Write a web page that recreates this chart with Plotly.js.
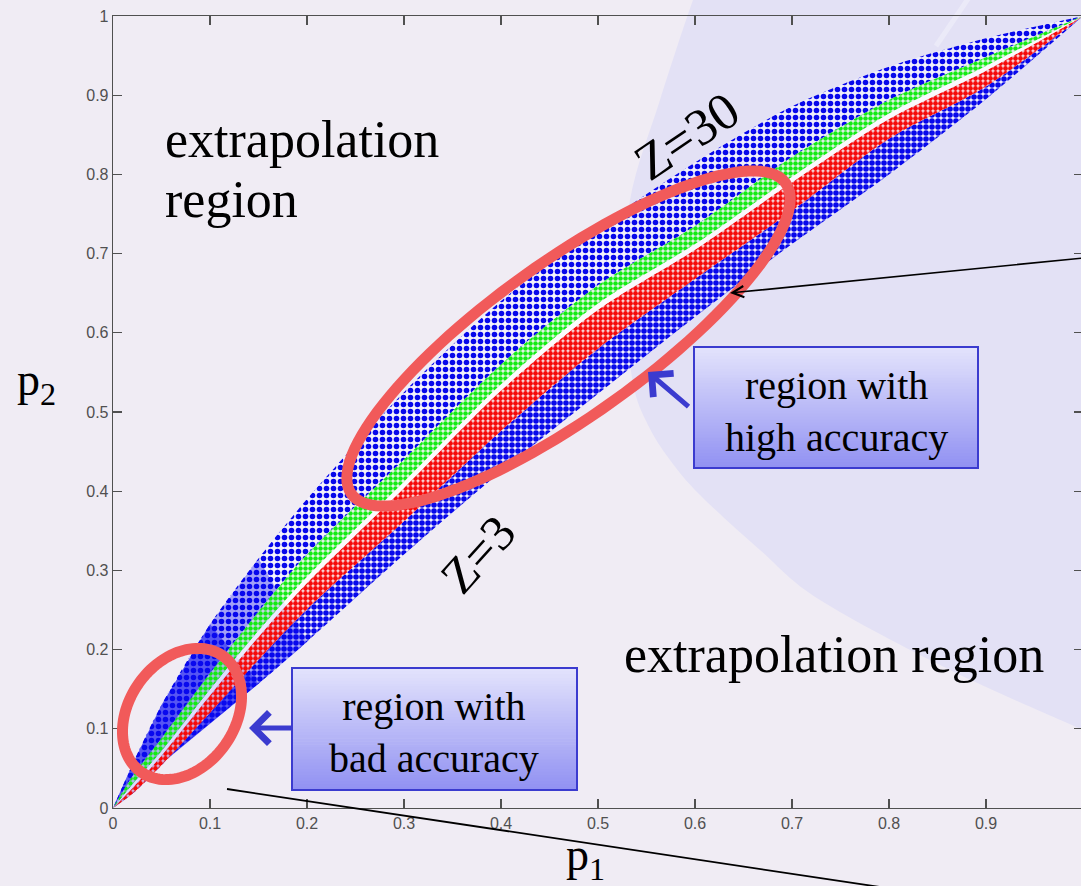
<!DOCTYPE html>
<html>
<head>
<meta charset="utf-8">
<script src="https://cdn.plot.ly/plotly-3.0.1.min.js"></script>
<style>
  html, body { margin: 0; padding: 0; overflow: hidden; background: #f0ecf4; }
  #chart { width: 1083px; height: 886px; }
</style>
</head>
<body>
<div id="chart"></div>
<script>
// Sample positions along p1 and the band edges (p2) of the point cloud
const p1          = [0, 0.02, 0.05, 0.10, 0.15, 0.20, 0.30, 0.40, 0.50, 0.60, 0.70, 0.80, 0.90, 1.00];
const blueUpper   = [0, 0.055, 0.130, 0.232, 0.315, 0.390, 0.525, 0.640, 0.733, 0.815, 0.886, 0.936, 0.972, 1.00];
const greenTop    = [0, 0.040, 0.088, 0.170, 0.248, 0.320, 0.440, 0.560, 0.660, 0.735, 0.822, 0.894, 0.948, 1.00];
const greenBottom = [0, 0.030, 0.072, 0.150, 0.224, 0.292, 0.412, 0.535, 0.637, 0.712, 0.797, 0.877, 0.937, 1.00];
const redTop      = [0, 0.025, 0.066, 0.142, 0.216, 0.284, 0.404, 0.527, 0.629, 0.705, 0.790, 0.870, 0.931, 1.00];
const redBottom   = [0, 0.018, 0.054, 0.120, 0.187, 0.251, 0.362, 0.476, 0.580, 0.668, 0.754, 0.845, 0.911, 1.00];
const blueLower   = [0, 0.021, 0.056, 0.107, 0.157, 0.210, 0.320, 0.425, 0.523, 0.620, 0.712, 0.800, 0.895, 1.00];

// Solid part of the blue cloud near the origin: [upper-edge count, lower-edge count, opacity]
const coreLayers = [[5, 6, 0.35], [4, 5, 0.5]];

// Text labels
const txtExtrap1 = 'extrapolation';
const txtExtrap2 = 'region';
const txtExtrapBottom = 'extrapolation region';
const txtZ30 = 'Z=30';
const txtZ3 = 'Z=3';
const txtHigh = 'region with<br>high accuracy';
const txtBad = 'region with<br>bad accuracy';
const txtXLabel = 'p<sub>1</sub>';
const txtYLabel = 'p<sub>2</sub>';

// ---- page geometry ----
const W = 1083, H = 886, ML = 113, MR = 0, MT = 16, MB = 78;
const plotW = W - ML - MR, plotH = H - MT - MB;
const PX = x => (x - ML) / plotW;          // pixel -> paper x
const PY = y => (H - MB - y) / plotH;      // pixel -> paper y

const SERIF = 'Liberation Serif, Times New Roman, serif';
const BLUE_DOT = 'rgb(8,8,235)';

function pathFromPixels(pts, closed) {
  return pts.map((p, i) => (i ? 'L' : 'M') + PX(p[0]).toFixed(5) + ',' + PY(p[1]).toFixed(5)).join(' ') + (closed ? ' Z' : '');
}
function smoothPath(pts, tail) {
  // Catmull-Rom through pixel points, emitted as cubic Beziers in paper units
  let d = 'M' + PX(pts[0][0]) + ',' + PY(pts[0][1]);
  for (let i = 0; i < pts.length - 1; i++) {
    const p0 = pts[Math.max(i - 1, 0)], pa = pts[i], pb = pts[i + 1], p3 = pts[Math.min(i + 2, pts.length - 1)];
    const c1 = [pa[0] + (pb[0] - p0[0]) / 6, pa[1] + (pb[1] - p0[1]) / 6];
    const c2 = [pb[0] - (p3[0] - pa[0]) / 6, pb[1] - (p3[1] - pa[1]) / 6];
    d += ' C' + PX(c1[0]) + ',' + PY(c1[1]) + ' ' + PX(c2[0]) + ',' + PY(c2[1]) + ' ' + PX(pb[0]) + ',' + PY(pb[1]);
  }
  tail.forEach(p => { d += ' L' + PX(p[0]) + ',' + PY(p[1]); });
  return d + ' Z';
}
function ellipsePath(cx, cy, a, b, deg) {
  const th = deg * Math.PI / 180, pts = [];
  for (let k = 0; k <= 120; k++) {
    const t = 2 * Math.PI * k / 120;
    pts.push([cx + a * Math.cos(t) * Math.cos(th) - b * Math.sin(t) * Math.sin(th),
              cy - a * Math.cos(t) * Math.sin(th) - b * Math.sin(t) * Math.cos(th)]);
  }
  return pathFromPixels(pts, true);
}
function gradientBox(x0, y0, x1, y1, top, bottom) {
  const n = 40, out = [];
  for (let i = 0; i < n; i++) {
    const f = i / (n - 1);
    const c = top.map((v, k) => Math.round(v + (bottom[k] - v) * f));
    out.push({type: 'rect', xref: 'paper', yref: 'paper', layer: 'above',
      x0: PX(x0), x1: PX(x1), y0: PY(y0 + (y1 - y0) * i / n), y1: PY(y0 + (y1 - y0) * (i + 1) / n + 0.6),
      fillcolor: 'rgb(' + c.join(',') + ')', line: {width: 0}});
  }
  out.push({type: 'rect', xref: 'paper', yref: 'paper', layer: 'above',
    x0: PX(x0), x1: PX(x1), y0: PY(y0), y1: PY(y1),
    fillcolor: 'rgba(0,0,0,0)', line: {color: '#3b3bcf', width: 2}});
  return out;
}

// ---- traces ----
const base = {x: p1, mode: 'lines', line: {width: 0, shape: 'spline', smoothing: 0.8},
              hoverinfo: 'skip', showlegend: false};
const pattern = (fg, bg, size, solidity) => ({shape: '.', fgcolor: fg, bgcolor: bg, size: size, solidity: solidity, fillmode: 'replace'});

const traces = [
  Object.assign({}, base, {y: blueLower}),
  Object.assign({}, base, {y: redBottom, fill: 'tonexty', fillcolor: BLUE_DOT,
    fillpattern: pattern(BLUE_DOT, 'rgba(246,246,255,0.55)', 6, 0.68)}),
  Object.assign({}, base, {y: greenTop}),
  Object.assign({}, base, {y: blueUpper, fill: 'tonexty', fillcolor: BLUE_DOT,
    fillpattern: pattern(BLUE_DOT, 'rgba(246,246,255,0.6)', 7, 0.5)})
];
coreLayers.forEach(([nu, nl, op]) => {
  traces.push({
    x: p1.slice(0, nu).concat(p1.slice(0, nl).reverse()),
    y: blueUpper.slice(0, nu).concat(blueLower.slice(0, nl).reverse()),
    mode: 'lines', fill: 'toself', fillcolor: 'rgba(10,10,240,' + op + ')',
    line: {width: 0, shape: 'linear'}, hoverinfo: 'skip', showlegend: false
  });
});
traces.push(
  Object.assign({}, base, {y: redBottom}),
  Object.assign({}, base, {y: redTop, fill: 'tonexty', fillcolor: 'rgb(245,10,10)',
    fillpattern: pattern('rgb(245,10,10)', 'rgba(255,235,235,0.7)', 5, 0.74)}),
  Object.assign({}, base, {y: greenBottom, fill: 'tonexty', fillcolor: 'rgba(255,255,255,0.8)'}),
  Object.assign({}, base, {y: greenTop, fill: 'tonexty', fillcolor: 'rgb(20,235,20)',
    fillpattern: pattern('rgb(20,235,20)', 'rgba(240,255,240,0.6)', 5, 0.66)})
);

// ---- decorations ----
const regionPts = [[705, -25], [693, 0], [660, 100], [630, 200], [625, 300], [633, 383],
                   [648, 425], [670, 460], [700, 495], [760, 550], [820, 600], [950, 670], [1083, 730]];
const shapes = [
  {type: 'path', xref: 'paper', yref: 'paper', layer: 'below',
   path: smoothPath(regionPts, [[1200, 790], [1200, -25]]),
   fillcolor: '#e3e1f5', line: {width: 0}},
  {type: 'line', xref: 'paper', yref: 'paper', layer: 'below',
   x0: PX(970), y0: PY(-4), x1: PX(936), y1: PY(46), line: {color: 'rgba(255,255,255,0.3)', width: 5}},
  {type: 'path', xref: 'paper', yref: 'paper', layer: 'above',
   path: ellipsePath(568.5, 338.5, 267, 77, 35.6), line: {color: '#f15a5a', width: 11}},
  {type: 'path', xref: 'paper', yref: 'paper', layer: 'above',
   path: ellipsePath(182, 714, 71, 53, 55), line: {color: '#f15a5a', width: 11}},
  {type: 'line', xref: 'paper', yref: 'paper', layer: 'above',
   x0: PX(227), y0: PY(789), x1: PX(940), y1: PY(896), line: {color: '#000', width: 1.8}}
].concat(
  gradientBox(694, 347, 978, 468, [226, 226, 252], [146, 146, 242]),
  gradientBox(292, 668, 577, 790, [226, 226, 252], [146, 146, 242])
);

const txt = (text, x, y, size, extra) => Object.assign({
  text: text, xref: 'paper', yref: 'paper', x: PX(x), y: PY(y), showarrow: false,
  xanchor: 'center', yanchor: 'middle', font: {family: SERIF, size: size, color: '#000'}
}, extra || {});
const arrow = (tipX, tipY, ax, ay, color, width, head, size) => ({
  text: '', xref: 'paper', yref: 'paper', x: PX(tipX), y: PY(tipY), ax: ax, ay: ay,
  showarrow: true, arrowcolor: color, arrowwidth: width, arrowhead: head, arrowsize: size, standoff: 0
});

const annotations = [
  txt(txtExtrap1, 163, 139.5, 52, {xanchor: 'left'}),
  txt(txtExtrap2, 163, 199.5, 52, {xanchor: 'left'}),
  txt(txtExtrapBottom, 622, 654.5, 52, {xanchor: 'left'}),
  txt(txtZ30, 686, 136, 52, {textangle: -34}),
  txt(txtZ3, 478, 554, 50, {textangle: -48}),
  txt(txtHigh, 836, 411, 40),
  txt(txtBad, 434, 732, 40),
  txt(txtXLabel, 585, 858, 46),
  txt(txtYLabel, 36, 383, 46),
  arrow(730, 293, 356, -35, '#000', 1.6, 5, 1.4),
  arrow(648, 372, 42, 36, '#3b3bcf', 5, 4, 1.2),
  arrow(249, 728, 44, 0, '#3b3bcf', 5, 4, 1.2)
];

const axisCommon = {
  range: [0, 1], tick0: 0, dtick: 0.1, ticks: 'inside', ticklen: 9, tickwidth: 1.2,
  tickcolor: '#505050', showline: true, linecolor: '#505050', linewidth: 1.3, mirror: 'ticks',
  showgrid: false, zeroline: false, fixedrange: true,
  tickfont: {family: 'Liberation Sans, Arial, sans-serif', size: 16, color: '#505050'}
};

const layout = {
  width: W, height: H,
  margin: {l: ML, r: MR, t: MT, b: MB, pad: 0},
  paper_bgcolor: '#f0ecf4', plot_bgcolor: 'rgba(0,0,0,0)',
  showlegend: false,
  xaxis: Object.assign({}, axisCommon),
  yaxis: Object.assign({}, axisCommon),
  shapes: shapes,
  annotations: annotations
};

Plotly.newPlot('chart', traces, layout, {displayModeBar: false, staticPlot: true});
</script>
</body>
</html>
